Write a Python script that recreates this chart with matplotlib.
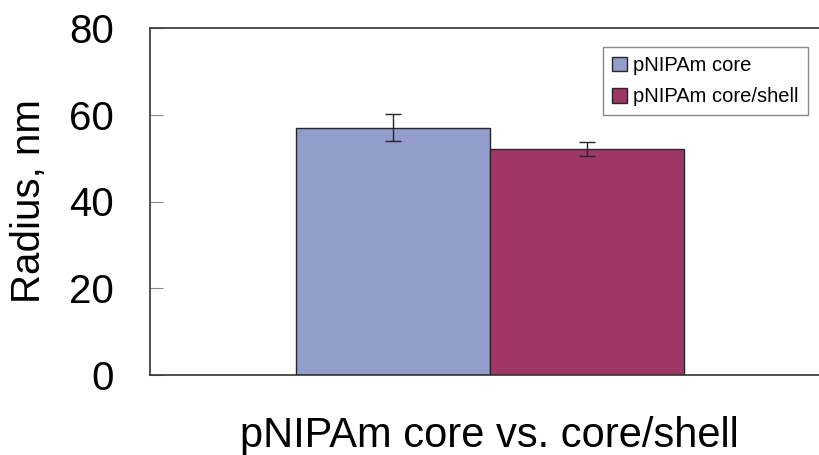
import matplotlib
matplotlib.use('Agg')
from matplotlib import pyplot as plt

plt.rcParams['font.family'] = ['Liberation Sans', 'DejaVu Sans']

# data
labels = ['pNIPAm core', 'pNIPAm core/shell']
radius = [57.0, 52.1]
err = [3.1, 1.7]
colors = ['#939dcb', '#9e3768']
yticks = [0, 20, 40, 60, 80]

fig = plt.figure(figsize=(8.2, 4.55), dpi=100)
ax = fig.add_axes([150/820, 80/455, 680/820, 347/455])

width = 0.285
xs = [-width/2, width/2]
for x, r, e, c, lab in zip(xs, radius, err, colors, labels):
    ax.bar(x, r, width=width, color=c, edgecolor='#262626', linewidth=1.0, label=lab, zorder=2)
    ax.errorbar(x, r, yerr=e, fmt='none', ecolor='#262626', elinewidth=1.0,
                capsize=5.5, capthick=1.0, zorder=3)

ax.set_xlim(-0.5, 0.5)
ax.set_ylim(0, 80)
ax.set_yticks(yticks)
ax.set_xticks([])
ax.tick_params(axis='y', direction='in', length=9.5, width=0.8, color='#888888',
               labelsize=29, pad=26)
for s in ax.spines.values():
    s.set_color('#333333')
    s.set_linewidth(1.2)

ax.set_ylabel('Radius, nm', fontsize=29)
ax.yaxis.set_label_coords(-0.15, 0.5)
ax.set_xlabel('pNIPAm core vs. core/shell', fontsize=30)
ax.xaxis.set_label_coords(339/680, -0.117)

leg = ax.legend(loc='upper left', bbox_to_anchor=(0.666, 0.945), fontsize=14.5,
                handlelength=0.75, handleheight=0.75, handletextpad=0.3,
                borderpad=0.45, labelspacing=0.6, fancybox=False,
                framealpha=1, edgecolor='#888888', borderaxespad=0)
leg.get_frame().set_linewidth(1.0)

fig.savefig('out.png', dpi=100)
